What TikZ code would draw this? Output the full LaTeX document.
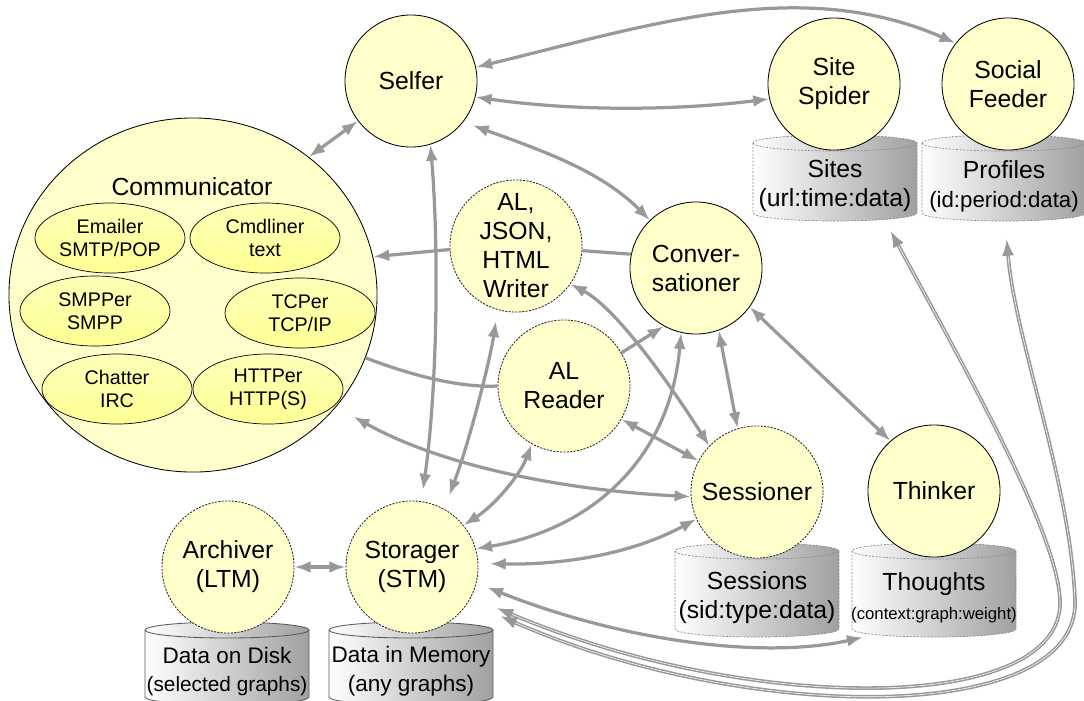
\documentclass[tikz,border=0pt]{standalone}
\usepackage{fontspec}
\setmainfont{Liberation Sans}
\usetikzlibrary{positioning}
\usetikzlibrary{shapes}
\usetikzlibrary{arrows.meta}

\definecolor{agentfill}{HTML}{FFFFCC}
\definecolor{roletop}{HTML}{FFFFB8}
\definecolor{rolebottom}{HTML}{FFFF94}
\definecolor{linkgray}{HTML}{999999}
\definecolor{canedge}{HTML}{8C8C8C}
\definecolor{candark}{HTML}{A0A0A0}

\newcommand{\bigfont}{\fontsize{17.6}{20.6}\selectfont}
\newcommand{\rolefont}{\fontsize{14}{16.4}\selectfont}

% data store: [border style]{name}{x}{top y}{bottom y}{text}
\newcommand{\store}[6][cylsoft]{%
  \path[cylbody,#1] ({#3-82},{#4+8}) -- ({#3-82},{#5-8})
    arc[start angle=180, end angle=0, x radius=82, y radius=8]
    -- ({#3+82},{#4+8})
    arc[start angle=0, end angle=-180, x radius=82, y radius=8] -- cycle;
  \draw[#1] ({#3-82},{#4+8}) arc[start angle=180, end angle=0, x radius=82, y radius=8];
  \node[cantext, minimum height={(#5-#4-16)*0.025cm}] (#2) at (#3,{(#4+#5+16)/2}) {#6};
}

\begin{document}
\begin{tikzpicture}[x=0.025cm, y=-0.025cm, >={Latex[length=11.5pt,width=8.5pt]}, line join=round,
  agent/.style ={circle, draw=black, line width=0.6pt, fill=agentfill,
  minimum size=3.3cm, inner sep=0pt, align=center, font=\bigfont},
  agent_dashed/.style ={agent, draw=black!85, dash pattern=on 1.5pt off 0.9pt},
  role/.style ={ellipse, draw=black, line width=0.5pt, top color=roletop,
  bottom color=rolebottom, minimum width=3.75cm, minimum height=1.75cm,
  inner sep=0pt, align=center, font=\rolefont},
  cylbody/.style ={left color=white, right color=candark},
  cylsoft/.style ={draw=canedge, line width=0.5pt, dash pattern=on 1.5pt off 1pt},
  cylhard/.style ={draw=black!65, line width=0.6pt},
  cantext/.style ={rectangle, minimum width=4.1cm, inner sep=0pt, align=center, font=\bigfont},
  link/.style ={draw=linkgray, line width=2.3pt, <->},
  link_double/.style ={link, line width=1.1pt, double=white, double distance=0.4pt}]
  \useasboundingbox (0,0) rectangle (1084,700);

  % data stores
  \store{sites}{835}{135}{221}{Sites\\(url:time:data)}
  \store{profiles}{1004}{135}{221}{Profiles\\{\fontsize{15.8}{19}\selectfont(id:period:data)}}
  \store{sessions}{757}{543}{637}{Sessions\\(sid:type:data)}
  \store{thoughts}{934}{543}{637}{Thoughts\\{\fontsize{11.9}{14}\selectfont(context:graph:weight)}}
  \store[cylhard]{disk}{227}{622}{705}{{\fontsize{16}{20}\selectfont Data on Disk}\\{\fontsize{14.8}{18}\selectfont(selected graphs)}}
  \store[cylhard]{memory}{411}{622}{705}{{\fontsize{16}{20}\selectfont Data in Memory}\\{\fontsize{16}{20}\selectfont(any graphs)}}

  % communicator and its channels
  \node[ellipse, draw=black, line width=0.6pt, fill=agentfill,
    minimum width=9.2cm, minimum height=8.85cm] (comm) at (193,295) {};
  \node[font=\bigfont] (commtitle) at (192,187) {Communicator};
  \node[role] (emailer) at (110,238) {Emailer\\SMTP/POP};
  \node[role] (cmdliner) at (265,238) {Cmdliner\\text};
  \node[role] (smpper) at (95,311) {SMPPer\\SMPP};
  \node[role] (tcper) at (300,313) {TCPer\\TCP/IP};
  \node[role] (chatter) at (117,389) {Chatter\\IRC};
  \node[role] (httper) at (268,389) {HTTPer\\HTTP(S)};

  % agents
  \node[agent] (selfer) at (411,81) {Selfer};
  \node[agent] (spider) at (834,84) {Site\\Spider};
  \node[agent] (feeder) at (1008,84) {Social\\Feeder};
  \node[agent_dashed] (writer) at (516,246) {AL,\\JSON,\\HTML\\Writer};
  \node[agent] (conv) at (696,268) {Conver-\\sationer};
  \node[agent_dashed] (reader) at (564,386) {AL\\Reader};
  \node[agent_dashed] (sessr) at (757,492) {Sessioner};
  \node[agent] (thinker) at (934,491) {Thinker};
  \node[agent_dashed] (archiver) at (228,567) {Archiver\\(LTM)};
  \node[agent_dashed] (storager) at (412,567) {Storager\\(STM)};

  % links of Selfer
  \draw[link] (comm.50) -- (selfer.217);
  \draw[link] (selfer.12) .. controls (650,25) and (800,-25) .. (feeder.142);
  \draw[link] (selfer.-14) .. controls (580,112) and (680,110) .. (spider.193);
  \draw[link, shorten <=7pt] (selfer.-38) .. controls (540,150) and (600,170) .. (conv.134);
  \draw[link, shorten >=8pt] (selfer.-73) .. controls (440,260) and (436,400) .. (storager.82);

  % writer, reader, conversationer, sessioner
  \draw[link, ->] (writer.183) -- (comm.12);
  \draw[link, -] (writer.-4) -- (conv.168);
  \draw[link, -] (reader.180) .. controls (460,388) and (410,375) .. (comm.-20);
  \draw[link, ->] (reader.30) -- (conv.241);
  \draw[link] (writer.-35) .. controls (620,310) and (680,400) .. (sessr.136);
  \draw[link] (reader.-30) -- (sessr.152);
  \draw[link] (conv.-70) -- (sessr.107);
  \draw[link] (conv.-36) -- (thinker.131);
  \draw[link, shorten <=14pt] (comm.-38) .. controls (440,465) and (560,490) .. (sessr.184);
  \draw[link] (archiver.0) -- (storager.180);

  % links of Storager
  \draw[link, shorten <=10pt, shorten >=8pt] (storager.61) .. controls (470,440) and (490,360) .. (writer.254);
  \draw[link] (storager.39) .. controls (495,505) and (520,475) .. (reader.241);
  \draw[link] (storager.16) .. controls (590,530) and (670,460) .. (conv.257);
  \draw[link, shorten <=8pt] (storager.3) .. controls (560,565) and (630,555) .. (sessr.204);
  \draw[link, shorten <=8pt] (storager.-14) .. controls (620,640) and (760,660) .. (thoughts.-151);
  \draw[link_double, shorten <=20pt, shorten >=8pt] (storager.-27)
    .. controls (750,715) and (1065,715) .. (1060,600)
    .. controls (1057,530) and (960,360) .. (sites.-35);
  \draw[link_double, shorten <=25pt, shorten >=13pt] (storager.-32)
    .. controls (750,725) and (1080,725) .. (1075,600)
    .. controls (1070,480) and (1015,340) .. (profiles.-88);
\end{tikzpicture}
\end{document}
